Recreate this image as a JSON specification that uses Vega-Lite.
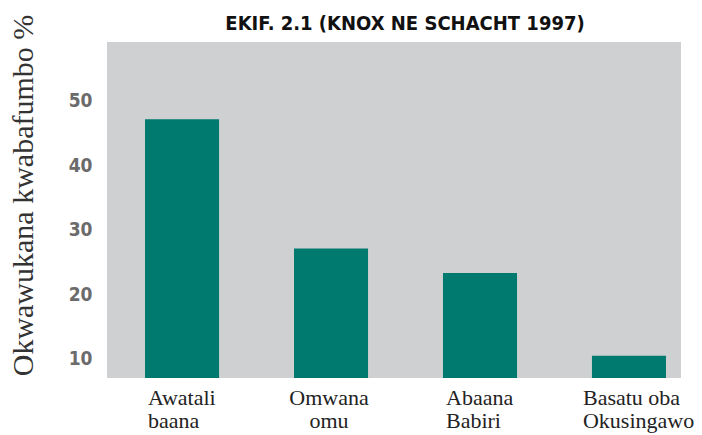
{
  "$schema": "https://vega.github.io/schema/vega-lite/v6.json",
  "width": 574,
  "height": 336,
  "autosize": {"type": "none"},
  "padding": {"left": 107, "top": 42, "right": 21, "bottom": 57},
  "background": "white",
  "title": {
    "text": "EKIF. 2.1 (KNOX NE SCHACHT 1997)",
    "font": "DejaVu Sans Condensed, DejaVu Sans, sans-serif",
    "fontSize": 20,
    "fontWeight": "bold",
    "color": "#111111",
    "anchor": "middle",
    "frame": "group",
    "offset": 8,
    "dx": 11,
    "dy": 28
  },
  "data": {
    "values": [
      {"category": "Awatali baana", "value": 47.1},
      {"category": "Omwana omu", "value": 27.1},
      {"category": "Abaana Babiri", "value": 23.3},
      {"category": "Basatu oba Okusingawo", "value": 10.5}
    ]
  },
  "mark": {"type": "bar", "color": "#007a6e"},
  "encoding": {
    "x": {
      "field": "category",
      "type": "nominal",
      "sort": null,
      "scale": {"paddingInner": 0.503, "paddingOuter": 0.178, "align": 0.717},
      "axis": {
        "title": null,
        "labelAngle": 0,
        "domain": false,
        "ticks": false,
        "labelFont": "Liberation Serif, DejaVu Serif, serif",
        "labelFontSize": 22,
        "labelColor": "#222222",
        "labelPadding": 26,
        "labelLineHeight": 23,
        "labelBaseline": "alphabetic",
        "labelExpr": "datum.value == 'Basatu oba Okusingawo' ? ['Basatu oba', 'Okusingawo'] : split(datum.value, ' ')",
        "labelAlign": {
          "condition": {"test": "datum.value == 'Omwana omu'", "value": "center"},
          "value": "left"
        },
        "labelOffset": {
          "condition": [
            {"test": "datum.value == 'Omwana omu'", "value": -2},
            {"test": "datum.value == 'Basatu oba Okusingawo'", "value": -46}
          ],
          "value": -34
        }
      }
    },
    "y": {
      "field": "value",
      "type": "quantitative",
      "scale": {"domain": [7.06, 59.05], "zero": false, "nice": false, "clamp": true},
      "axis": {
        "values": [10, 20, 30, 40, 50],
        "grid": false,
        "domain": false,
        "ticks": false,
        "labelFont": "DejaVu Sans Condensed, DejaVu Sans, sans-serif",
        "labelFontSize": 19,
        "labelFontWeight": "bold",
        "labelColor": "#6b6b6b",
        "labelPadding": 15,
        "title": "Okwawukana kwabafumbo %",
        "titleFont": "Liberation Serif, DejaVu Serif, serif",
        "titleFontSize": 30,
        "titleFontWeight": "normal",
        "titleColor": "#333333",
        "titleAngle": -90,
        "titleAlign": "center",
        "titleBaseline": "middle",
        "titleX": -84,
        "titleY": 153
      }
    }
  },
  "config": {
    "view": {"fill": "#cfd0d2", "stroke": null}
  }
}
